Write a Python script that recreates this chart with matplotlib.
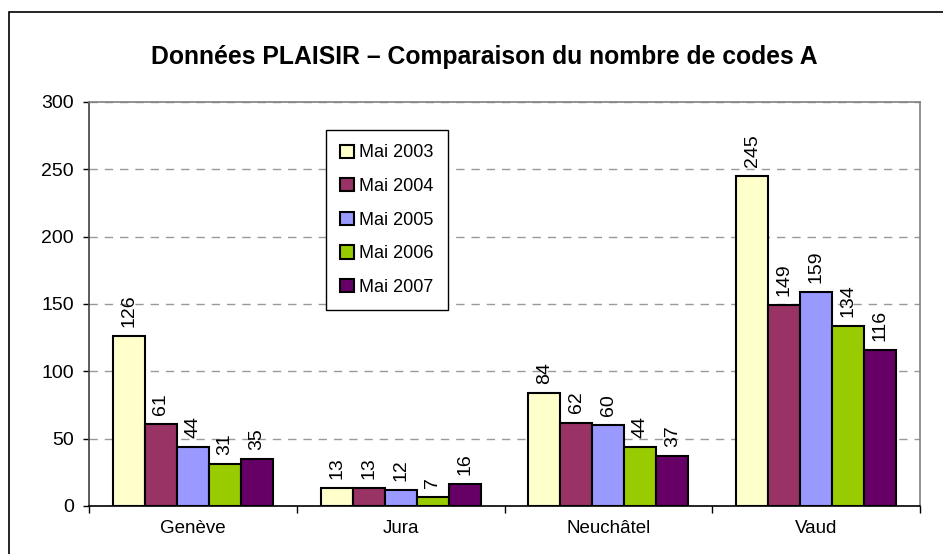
import matplotlib
matplotlib.use("Agg")
import matplotlib.pyplot as plt
import numpy as np
from matplotlib.patches import Rectangle

categories = ["Genève", "Jura", "Neuchâtel", "Vaud"]
series_labels = ["Mai 2003", "Mai 2004", "Mai 2005", "Mai 2006", "Mai 2007"]
values_2003 = [126, 13, 84, 245]
values_2004 = [61, 13, 62, 149]
values_2005 = [44, 12, 60, 159]
values_2006 = [31, 7, 44, 134]
values_2007 = [35, 16, 37, 116]
series_values = [values_2003, values_2004, values_2005, values_2006, values_2007]
colors = ["#FFFFCC", "#993366", "#9999FF", "#99CC00", "#660066"]
yticks = [0, 50, 100, 150, 200, 250, 300]
title = "Données PLAISIR – Comparaison du nombre de codes A"

plt.rcParams['font.family'] = ['Liberation Sans', 'DejaVu Sans']

W, H = 943, 554
fig = plt.figure(figsize=(W / 100, H / 100), dpi=100)

# outer frame (top and left edges visible)
fig.patches.append(Rectangle((9 / W, -0.5), 2, 1.5 - 12 / H, transform=fig.transFigure,
                             fill=False, edgecolor='black', lw=1.2))

ax = fig.add_axes([89 / W, (H - 506) / H, (920 - 89) / W, (506 - 102) / H])

n = len(series_values)
w = 1 / 6.5
x = np.arange(len(categories))
for i, (vals, c, lab) in enumerate(zip(series_values, colors, series_labels)):
    pos = x + (i - (n - 1) / 2) * w
    ax.bar(pos, vals, w, color=c, edgecolor='black', linewidth=1.5, label=lab, zorder=3)
    for p, v in zip(pos, vals):
        ax.annotate(str(v), (p, v), xytext=(0, 6.5), textcoords='offset points',
                    rotation=90, ha='center', va='bottom', fontsize=14)

ax.set_xlim(-0.5, len(categories) - 0.5)
ax.set_ylim(0, 300)
ax.set_yticks(yticks)
ax.set_xticks(np.arange(len(categories) + 1) - 0.5)
ax.set_xticklabels([])
ax.set_xticks(x, minor=True)
ax.set_xticklabels(categories, minor=True, fontsize=13.5)
ax.tick_params(axis='x', which='minor', length=0, pad=10)
ax.tick_params(axis='x', which='major', length=5, direction='out', width=1)
ax.tick_params(axis='y', length=4, direction='out', width=1, pad=7, labelsize=14)
ax.grid(axis='y', linestyle=(0, (6, 5)), color='#999999', linewidth=1, zorder=0)

ax.spines['left'].set_color('#404040')
ax.spines['bottom'].set_color('black')
ax.spines['top'].set_color('#808080')
ax.spines['right'].set_color('#808080')
for s in ax.spines.values():
    s.set_linewidth(1.2)

leg = ax.legend(loc='upper left', bbox_to_anchor=(326 / W, 1 - 130 / H),
                bbox_transform=fig.transFigure, borderaxespad=0,
                fancybox=False, framealpha=1, edgecolor='black',
                fontsize=13, handlelength=0.75, handleheight=0.75,
                handletextpad=0.3, labelspacing=0.92, borderpad=0.8)
leg.get_frame().set_linewidth(1)

fig.text(484 / W, 1 - 57 / H, title, ha='center', va='center',
         fontsize=17.8, fontweight='bold')

fig.savefig("out.png", dpi=100)
